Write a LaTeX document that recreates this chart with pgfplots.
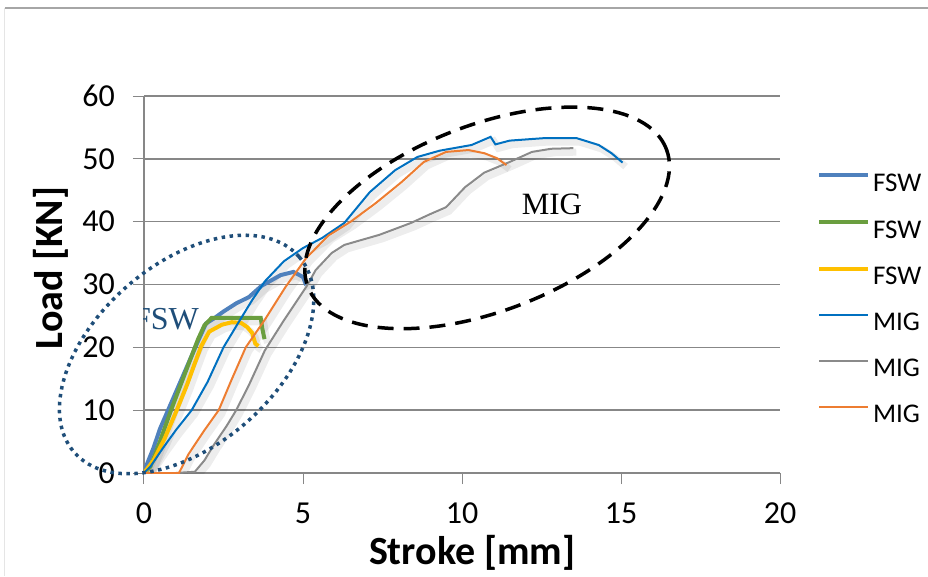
\documentclass[border=0pt]{standalone}
\usepackage{fontspec}
\setmainfont{Carlito}
\newfontfamily\annfont{Liberation Serif}
\usepackage{pgfplots}
\usepackage{pgfplotstable}
\pgfplotsset{compat=1.18}

\definecolor{fswa}{HTML}{4F81BD}
\definecolor{fswb}{HTML}{6A9E3F}
\definecolor{fswc}{HTML}{FFC000}
\definecolor{miga}{HTML}{0070C0}
\definecolor{migb}{HTML}{8A8A8A}
\definecolor{migc}{HTML}{ED7D31}
\definecolor{gridgray}{HTML}{878787}
\definecolor{navy}{HTML}{1F4E79}

% stroke [mm]  load [kN]
\pgfplotstableread{
x y
0 0
0.1 1.5
0.3 4
0.5 7
0.8 10.5
1.1 14
1.4 17.5
1.7 21
1.95 23.8
2.2 24.6
2.5 25.7
2.9 27
3.3 28
3.7 29.8
4.3 31.5
4.7 32
5.0 31.2
5.1 29.9
}\fswA
\pgfplotstableread{
x y
0 0
0.2 1
0.5 5
0.85 10
1.15 14
1.45 18
1.7 21.3
1.9 23.5
2.13 24.7
3.67 24.7
3.72 23
3.79 21.3
}\fswB
\pgfplotstableread{
x y
0 0
0.3 2
0.65 5.5
1.03 10
1.35 14
1.6 17.5
1.8 20.2
2.05 22.5
2.45 23.6
2.76 24
3.05 23.9
3.25 23.2
3.4 22.3
3.5 20.6
3.6 20.2
}\fswC
\pgfplotstableread{
x y
0 0
0.2 1
0.6 4
1.0 6.8
1.5 10
2.0 14.5
2.5 20
3.0 24.2
3.4 27.5
3.8 30.5
4.4 33.7
5.0 35.8
5.6 37.4
6.3 39.8
7.1 44.7
7.9 48.2
8.6 50.3
9.3 51.3
10.3 52.2
10.9 53.5
11.05 52.3
11.5 52.9
12.6 53.3
13.6 53.3
14.3 52.2
14.7 50.9
15.05 49.4
}\migA
\pgfplotstableread{
x y
0 0
1.0 0
1.6 0.2
1.9 2
2.2 4.5
2.6 7.5
2.9 10
3.3 14
3.8 19.5
4.4 24.3
5.1 29.6
5.4 32.3
5.9 35
6.3 36.3
7.4 37.9
8.4 39.8
9.0 41.2
9.5 42.3
10.1 45.5
10.7 47.8
11.5 49.5
12.2 51.1
12.8 51.6
13.5 51.7
}\migB
\pgfplotstableread{
x y
0 0
1.1 0
1.4 3
1.9 6.8
2.35 10
2.75 14.8
3.2 20
3.8 24.4
4.45 29.6
5.1 34.2
5.8 37.8
6.5 40
7.3 43
8.1 46.3
8.8 49.5
9.5 51.1
10.2 51.4
10.7 50.9
11.1 50.1
11.4 49
}\migC

\begin{document}
\begin{tikzpicture}[x=1pt,y=1pt]
\path[use as bounding box] (-144,-103) rectangle (784,473);
% chart frame
\draw[gray!70, line width=1.5pt] (-139,465) -- (784,465);
\draw[gray!20, line width=1pt] (-139,465) -- (-139,-103);

\begin{axis}[
    at={(0pt,0pt)}, anchor=south west,
    scale only axis,
    width=636pt, height=377pt,
    xmin=0, xmax=20, ymin=0, ymax=60,
    xtick={0,5,10,15,20}, ytick={0,10,20,30,40,50,60},
    axis x line*=bottom, axis y line*=left,
    axis line style={gridgray, line width=1.5pt, -},
    ymajorgrids, grid style={gridgray, line width=1.5pt},
    tick align=outside, major tick length=11pt,
    tick style={gridgray, line width=1pt},
    /pgf/number format/assume math mode=true,
    ticklabel style={font=\fontsize{32}{34}\selectfont, inner sep=0pt},
    yticklabel style={anchor=east, xshift=-18pt},
    xticklabel style={anchor=north, yshift=-19pt},
    xlabel={Stroke [mm]}, ylabel={Load [KN]},
    label style={font=\fontsize{40}{44}\selectfont\bfseries},
    xlabel style={at={(axis description cs:0.516,-0.212)}, anchor=center},
    ylabel style={at={(axis description cs:-0.146,0.544)}, anchor=center},
    legend style={at={(axis description cs:1.058,0.795)}, anchor=north west,
        draw=none, fill=none, inner sep=0pt, row sep=27pt, column sep=3pt,
        nodes={inner sep=0pt}, font=\fontsize{27}{30}\selectfont},
    legend cell align=left,
    legend image code/.code={\draw[#1] (0pt,8pt) -- (49pt,8pt);},
    shadow/.style={black, opacity=0.07, line width=7pt, shift={(3pt,-4pt)}, forget plot},
]
% soft shadows like the spreadsheet original
\addplot[shadow] table {\fswA};
\addplot[shadow] table {\fswB};
\addplot[shadow] table {\fswC};
\addplot[shadow] table {\migA};
\addplot[shadow] table {\migB};
\addplot[shadow] table {\migC};
% FSW specimens
\addplot[fswa, line width=4pt] table {\fswA};
\addlegendentry{FSW}
\addplot[fswb, line width=4pt] table {\fswB};
\addlegendentry{FSW}
\addplot[fswc, line width=4pt] table {\fswC};
\addlegendentry{FSW}
% MIG specimens
\addplot[miga, line width=2pt] table {\migA};
\addlegendentry{MIG}
\addplot[migb, line width=2pt] table {\migB};
\addlegendentry{MIG}
\addplot[migc, line width=2pt] table {\migC};
\addlegendentry{MIG}

\coordinate (cfsw) at (axis cs:1.34,18.86);
\coordinate (cmig) at (axis cs:10.79,40.6);
\node[navy, font=\annfont\fontsize{32}{34}\selectfont] at (axis cs:0.69,24.5) {FSW};
\node[black, font=\annfont\fontsize{31}{33}\selectfont] at (axis cs:12.83,42.8) {MIG};
\end{axis}

% group outlines
\draw[navy, line width=3.5pt, dash pattern=on 3.5pt off 4.5pt,
      rotate around={41:(cfsw)}] (cfsw) ellipse [x radius=149pt, y radius=90.5pt];
\draw[black, line width=3.5pt, dash pattern=on 16pt off 10pt,
      rotate around={21:(cmig)}] (cmig) ellipse [x radius=192pt, y radius=93pt];
\end{tikzpicture}
\end{document}
